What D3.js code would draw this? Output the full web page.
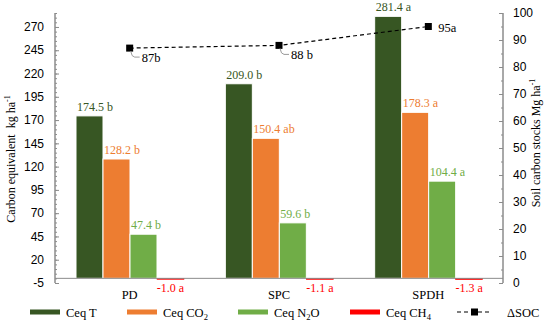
<!DOCTYPE html>
<html lang="en">
<head>
  <meta charset="UTF-8">
  <title>Carbon equivalent and soil carbon stocks</title>
  <script src="https://d3js.org/d3.v7.min.js"></script>
  <style>
    body { margin: 0; background: #fff; }
    svg { display: block; font-family: "Liberation Serif", "Times New Roman", serif; }
  </style>
</head>
<body>
  <svg id="chart" width="550" height="324"></svg>
  <script>
    // data
    const categories = ['PD', 'SPC', 'SPDH'];
    const ceqT = [174.5, 209.0, 281.4];
    const ceqTLetters = ['b', 'b', 'a'];
    const ceqCO2 = [128.2, 150.4, 178.3];
    const ceqCO2Letters = ['b', 'ab', 'a'];
    const ceqN2O = [47.4, 59.6, 104.4];
    const ceqN2OLetters = ['b', 'b', 'a'];
    const ceqCH4 = [-1.0, -1.1, -1.3];
    const ceqCH4Letters = ['a', 'a', 'a'];
    const soc = [87, 88, 95];
    const socLabels = ['87b', '88 b', '95a'];
    const leftTicks = [-5, 20, 45, 70, 95, 120, 145, 170, 195, 220, 245, 270];
    const rightTicks = [0, 10, 20, 30, 40, 50, 60, 70, 80, 90, 100];

    const series = [
      { key: 'T', values: ceqT, letters: ceqTLetters, color: '#375623' },
      { key: 'CO2', values: ceqCO2, letters: ceqCO2Letters, color: '#ED7D31' },
      { key: 'N2O', values: ceqN2O, letters: ceqN2OLetters, color: '#70AD47' },
      { key: 'CH4', values: ceqCH4, letters: ceqCH4Letters, color: '#FF0000' }
    ];

    const svg = d3.select('#chart');
    const plot = { left: 55, right: 503, top: 13, bottom: 283 };
    const axisColor = '#8c8c8c';

    const x0 = d3.scaleBand().domain(categories).range([plot.left, plot.right]);
    const x1 = d3.scaleBand().domain(series.map(s => s.key)).range([21, 129]);
    const y = d3.scaleLinear().domain([-5, 285]).range([plot.bottom, plot.top]);
    const y2 = d3.scaleLinear().domain([0, 100]).range([plot.bottom, plot.top]);

    // left axis
    const gl = svg.append('g').attr('transform', `translate(${plot.left},0)`);
    gl.call(d3.axisRight(y).tickValues(d3.range(-5, 286, 5)).tickSize(2).tickFormat(''));
    gl.append('g').call(d3.axisRight(y).tickValues(leftTicks).tickSize(4).tickFormat(''));
    gl.selectAll('path, line').attr('stroke', axisColor);
    gl.selectAll('.domain').attr('d', `M0,${plot.top}V${plot.bottom}`);
    gl.selectAll('.tlabel').data(leftTicks).enter().append('text')
      .attr('class', 'tlabel')
      .attr('x', -11).attr('y', d => y(d)).attr('dy', '0.35em')
      .attr('text-anchor', 'end').attr('font-size', 12).attr('fill', '#000')
      .text(d => d);

    // right axis
    const gr = svg.append('g').attr('transform', `translate(${plot.right},0)`);
    gr.call(d3.axisLeft(y2).tickValues(d3.range(0, 101, 5)).tickSize(2).tickFormat(''));
    gr.append('g').call(d3.axisLeft(y2).tickValues(rightTicks).tickSize(4).tickFormat(''));
    gr.selectAll('path, line').attr('stroke', axisColor);
    gr.selectAll('.domain').attr('d', `M0,${plot.top}V${plot.bottom}`);
    gr.selectAll('.tlabel').data(rightTicks).enter().append('text')
      .attr('class', 'tlabel')
      .attr('x', 10).attr('y', d => y2(d)).attr('dy', '0.35em')
      .attr('text-anchor', 'start').attr('font-size', 12).attr('fill', '#000')
      .text(d => d);

    // bars
    const groups = svg.selectAll('g.cat')
      .data(categories)
      .enter().append('g')
      .attr('class', 'cat')
      .attr('transform', d => `translate(${x0(d)},0)`);

    series.forEach(s => {
      groups.append('rect')
        .attr('x', x1(s.key))
        .attr('width', x1.bandwidth())
        .attr('y', (d, i) => y(Math.max(0, s.values[i])))
        .attr('height', (d, i) => Math.abs(y(s.values[i]) - y(0)))
        .attr('fill', s.color)
        .attr('stroke', s.key === 'CH4' ? s.color : '#fff')
        .attr('stroke-width', s.key === 'CH4' ? 0.6 : 1);

      groups.append('text')
        .attr('x', (d, i) => s.values[i] < 0 ? x1(s.key) + x1.bandwidth() / 2 : x1(s.key) + 1)
        .attr('y', (d, i) => s.values[i] < 0 ? y(0) + 14 : y(s.values[i]) - 5)
        .attr('text-anchor', (d, i) => s.values[i] < 0 ? 'middle' : 'start')
        .attr('font-size', 12)
        .attr('fill', s.color)
        .text((d, i) => `${s.values[i].toFixed(1)} ${s.letters[i]}`);
    });

    // zero line
    svg.append('line')
      .attr('x1', plot.left).attr('x2', plot.right)
      .attr('y1', y(0)).attr('y2', y(0))
      .attr('stroke', axisColor);

    // category labels
    svg.selectAll('text.catlabel')
      .data(categories)
      .enter().append('text')
      .attr('class', 'catlabel')
      .attr('x', d => x0(d) + x0.bandwidth() / 2)
      .attr('y', 299)
      .attr('text-anchor', 'middle')
      .attr('font-size', 12.5)
      .attr('fill', '#000')
      .text(d => d);

    // soil carbon line
    const socPts = categories.map((c, i) => [x0(c) + x0.bandwidth() / 2, y2(soc[i])]);
    svg.append('path')
      .attr('d', d3.line()(socPts))
      .attr('fill', 'none')
      .attr('stroke', '#000')
      .attr('stroke-width', 1.2)
      .attr('stroke-dasharray', '4,3');

    svg.selectAll('rect.soc')
      .data(socPts)
      .enter().append('rect')
      .attr('class', 'soc')
      .attr('x', d => d[0] - 3.5).attr('y', d => d[1] - 3.5)
      .attr('width', 7).attr('height', 7)
      .attr('fill', '#000');

    socPts.forEach((p, i) => {
      if (i < 2) {
        svg.append('path')
          .attr('d', `M${p[0] + 1},${p[1] + 3}Q${p[0] + 2},${p[1] + 9} ${p[0] + 5},${p[1] + 9}H${p[0] + 10}`)
          .attr('fill', 'none').attr('stroke', '#9a9a9a').attr('stroke-width', 1);
        svg.append('text')
          .attr('x', p[0] + 12).attr('y', p[1] + 14)
          .attr('font-size', 12.5).attr('fill', '#000')
          .text(socLabels[i]);
      } else {
        svg.append('text')
          .attr('x', p[0] + 10).attr('y', p[1] + 5)
          .attr('font-size', 12.5).attr('fill', '#000')
          .text(socLabels[i]);
      }
    });

    // axis titles
    const tl = svg.append('text')
      .attr('transform', 'translate(15,159) rotate(-90)')
      .attr('text-anchor', 'middle').attr('font-size', 12).attr('fill', '#000');
    tl.append('tspan').text('Carbon equivalent\u00a0\u00a0kg ha');
    tl.append('tspan').attr('font-size', 8).attr('dy', -5).text('-1');

    const tr = svg.append('text')
      .attr('transform', 'translate(540,143) rotate(-90)')
      .attr('text-anchor', 'middle').attr('font-size', 12).attr('fill', '#000');
    tr.append('tspan').text('Soil carbon stocks Mg ha');
    tr.append('tspan').attr('font-size', 8).attr('dy', -5).text('-1');

    // legend
    const legendItems = [
      { color: '#375623', x: 30, parts: ['Ceq T'] },
      { color: '#ED7D31', x: 127, parts: ['Ceq CO', '2'] },
      { color: '#70AD47', x: 238, parts: ['Ceq N', '2', 'O'] },
      { color: '#FF0000', x: 350, parts: ['Ceq CH', '4'] }
    ];
    const ly = 312;
    legendItems.forEach(item => {
      svg.append('rect')
        .attr('x', item.x).attr('y', ly - 2.5)
        .attr('width', 30).attr('height', 5)
        .attr('fill', item.color);
      const t = svg.append('text')
        .attr('x', item.x + 36).attr('y', ly + 4.5)
        .attr('font-size', 12.5).attr('fill', '#000');
      item.parts.forEach((p, j) => {
        if (j % 2 === 1) {
          t.append('tspan').attr('font-size', 8.5).attr('dy', 3).text(p);
        } else {
          t.append('tspan').attr('dy', j === 0 ? 0 : -3).text(p);
        }
      });
    });
    svg.append('line')
      .attr('x1', 457).attr('x2', 492).attr('y1', ly).attr('y2', ly)
      .attr('stroke', '#000').attr('stroke-width', 1.2).attr('stroke-dasharray', '4,3');
    svg.append('rect')
      .attr('x', 471).attr('y', ly - 3.5).attr('width', 7).attr('height', 7).attr('fill', '#000');
    svg.append('text')
      .attr('x', 507).attr('y', ly + 4.5)
      .attr('font-size', 12.5).attr('fill', '#000')
      .text('\u0394SOC');
  </script>
</body>
</html>
